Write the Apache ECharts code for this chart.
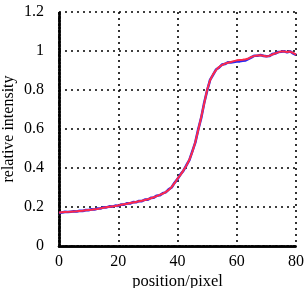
<!DOCTYPE html>
<html><head><meta charset="utf-8">
<script src="https://cdn.jsdelivr.net/npm/echarts@6/dist/echarts.min.js"></script>
<style>html,body{margin:0;padding:0;background:#fff}#c{width:306px;height:288px}</style>
</head><body><div id="c"></div>
<script>
var positions = [];
for (var i = 0; i <= 80; i++) positions.push(i);
var redValues = [0.172,0.173,0.174,0.175,0.176,0.177,0.178,0.180,0.181,0.183,
0.185,0.186,0.188,0.190,0.193,0.196,0.199,0.201,0.203,0.205,
0.208,0.211,0.214,0.217,0.220,0.223,0.226,0.229,0.232,0.236,
0.240,0.245,0.250,0.256,0.262,0.268,0.276,0.287,0.302,0.322,
0.345,0.365,0.388,0.412,0.442,0.482,0.532,0.595,0.660,0.730,
0.800,0.850,0.880,0.902,0.918,0.928,0.935,0.940,0.944,0.948,
0.952,0.954,0.955,0.958,0.962,0.970,0.975,0.977,0.978,0.976,
0.972,0.975,0.982,0.988,0.993,0.998,0.997,0.995,0.997,0.990,0.982];
var blueValues = [0.170,0.172,0.175,0.174,0.176,0.178,0.177,0.181,0.180,0.184,
0.184,0.188,0.187,0.192,0.192,0.198,0.198,0.203,0.202,0.207,
0.206,0.213,0.212,0.219,0.218,0.225,0.224,0.231,0.230,0.238,
0.238,0.247,0.248,0.258,0.260,0.270,0.275,0.290,0.300,0.324,
0.343,0.367,0.386,0.414,0.440,0.485,0.530,0.598,0.657,0.733,
0.797,0.852,0.878,0.905,0.915,0.930,0.933,0.942,0.941,0.944,
0.946,0.947,0.950,0.952,0.960,0.968,0.976,0.976,0.979,0.975,
0.973,0.974,0.984,0.987,0.995,0.996,0.999,0.993,0.999,0.988,0.980];
var xTicks = [0,20,40,60,80];
var yTicks = [0,0.2,0.4,0.6,0.8,1,1.2];

function pairs(v){return positions.map(function(p,i){return [p,v[i]];});}
var font = 'Liberation Serif';
var frame = {show:true, lineStyle:{color:'#000', width:2.5, type:[2,1.5]}};
var chart = echarts.init(document.getElementById('c'), null, {renderer:'canvas'});
chart.setOption({
  animation:false,
  grid:{left:59, right:10, top:12, bottom:42, containLabel:false, outerBoundsMode:'none'},
  xAxis:[{
    type:'value', min:xTicks[0], max:xTicks[xTicks.length-1], interval:20,
    axisLine:frame, axisTick:{show:false},
    axisLabel:{fontFamily:font, fontSize:16, color:'#000', margin:8},
    splitLine:{show:true, lineStyle:{color:'#000', width:1.6, type:[2,4]}},
    name:'position/pixel', nameLocation:'middle', nameGap:27, nameMoveOverlap:false,
    nameTextStyle:{fontFamily:font, fontSize:16.5, color:'#000'}
  },{
    type:'value', position:'top', min:0, max:80, interval:20,
    axisLine:frame, axisTick:{show:false}, axisLabel:{show:false}, splitLine:{show:false}
  }],
  yAxis:[{
    type:'value', min:yTicks[0], max:yTicks[yTicks.length-1], interval:0.2,
    axisLine:frame, axisTick:{show:false},
    axisLabel:{fontFamily:font, fontSize:16, color:'#000', margin:15,
      formatter:function(v){return String(+v.toFixed(1));}},
    splitLine:{show:true, lineStyle:{color:'#000', width:1.6, type:[2,4]}},
    name:'relative intensity', nameLocation:'middle', nameGap:42, nameMoveOverlap:false,
    nameTextStyle:{fontFamily:font, fontSize:16, color:'#000'}
  },{
    type:'value', position:'right', min:0, max:1.2, interval:0.2,
    axisLine:frame, axisTick:{show:false}, axisLabel:{show:false}, splitLine:{show:false}
  }],
  series:[
    {type:'line', data:pairs(blueValues), showSymbol:false, lineStyle:{color:'#2a2af0', width:2.6}},
    {type:'line', data:pairs(redValues), showSymbol:false, lineStyle:{color:'#ff2a4a', width:2}}
  ]
});
</script></body></html>
